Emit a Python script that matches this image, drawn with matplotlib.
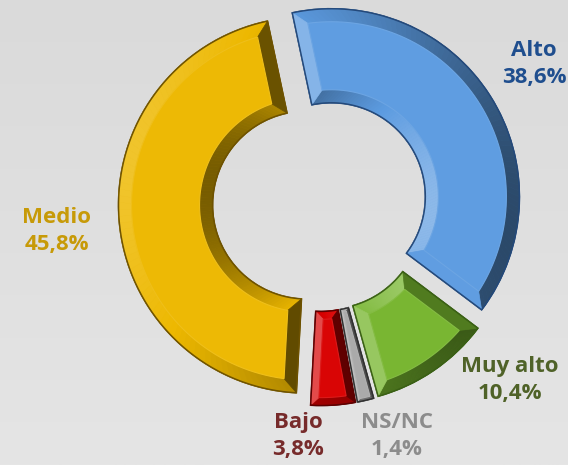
import numpy as np
import matplotlib
matplotlib.use("Agg")
import matplotlib.pyplot as plt
from matplotlib.collections import PolyCollection
from matplotlib.patches import Polygon
from matplotlib.colors import to_rgb

# ---- data ----
categories = ["Alto", "Muy alto", "NS/NC", "Bajo", "Medio"]
values = [38.6, 10.4, 1.4, 3.8, 45.8]
value_labels = ["38,6%", "10,4%", "1,4%", "3,8%", "45,8%"]

# ---- style ----
slice_colors = ["#5C9BE0", "#76B52E", "#A8A8A8", "#D80000", "#EDB800"]
edge_colors = ["#24497A", "#3A6015", "#303030", "#5A0000", "#6E5200"]
text_colors = ["#1F4E8E", "#4F6228", "#8C8C8C", "#772B2B", "#C79A08"]
label_pos = [(534, 64), (510, 380), (397, 436), (298, 436), (57, 231)]  # pixel (x, y from top)
explode_px = 13.5

W, H = 568, 465
fig = plt.figure(figsize=(W / 100, H / 100), dpi=100)
ax = fig.add_axes([0, 0, 1, 1])

# background gradient
grad = np.linspace(0, 1, 256).reshape(-1, 1)
c_top = np.array(to_rgb("#DADADA"))
c_bot = np.array(to_rgb("#E5E5E5"))
bg = c_bot[None, None, :] * (1 - grad[..., None]) + c_top[None, None, :] * grad[..., None]
ax.imshow(bg, extent=[0, W, 0, H], origin="lower", aspect="auto", zorder=0)

R = 188
wedges, _ = ax.pie(values, radius=R, center=(320, H - 204), startangle=102,
                   counterclock=False, explode=[explode_px] * len(values),
                   colors=slice_colors,
                   wedgeprops=dict(width=R * 0.5, linewidth=1.2),
                   frame=True)
ax.set_xlim(0, W)
ax.set_ylim(0, H)
ax.set_aspect("equal")
ax.axis("off")

L = np.array([-0.97, 0.25])
L = L / np.linalg.norm(L)


def shade(base, f):
    base = np.array(base)
    if f >= 1:
        return tuple(base + (1 - base) * min(f - 1, 1))
    return tuple(base * max(f, 0))


def sector_pts(cx, cy, ri, ro, t1, t2, d, n=60):
    rr_o = ro - d
    rr_i = ri + d

    def tb(r):
        a = np.degrees(np.arcsin(min(d / r, 0.99)))
        return t1 + a, t2 - a
    a1, a2 = tb(rr_o)
    b1, b2 = tb(rr_i)
    to = np.radians(np.linspace(a1, a2, n))
    ti = np.radians(np.linspace(b2, b1, n))
    return np.concatenate([
        np.c_[cx + rr_o * np.cos(to), cy + rr_o * np.sin(to)],
        np.c_[cx + rr_i * np.cos(ti), cy + rr_i * np.sin(ti)]])


for w, col, ecol in zip(wedges, slice_colors, edge_colors):
    w.set_edgecolor(ecol)
    w.set_zorder(2)
    cx, cy = w.center
    ro = w.r
    ri = w.r - w.width
    t1, t2 = w.theta1, w.theta2
    base = to_rgb(col)
    span_in = np.radians(t2 - t1) * ri
    d = min(13, span_in * 0.35, (ro - ri) * 0.3)
    n = 80
    outer = sector_pts(cx, cy, ri, ro, t1, t2, 0.0, n)
    inner = sector_pts(cx, cy, ri, ro, t1, t2, d, n)
    polys, cols = [], []
    for k in range(n - 1):
        quad = [outer[k], outer[k + 1], inner[k + 1], inner[k]]
        mid = (outer[k] + outer[k + 1]) / 2 - [cx, cy]
        nrm = mid / np.linalg.norm(mid)
        polys.append(quad)
        cols.append(shade(base, 0.82 + 0.35 * nrm.dot(L)))
    for k in range(n, 2 * n - 1):
        quad = [outer[k], outer[k + 1], inner[k + 1], inner[k]]
        mid = (outer[k] + outer[k + 1]) / 2 - [cx, cy]
        nrm = -mid / np.linalg.norm(mid)
        polys.append(quad)
        cols.append(shade(base, 0.9 + 0.4 * nrm.dot(L)))
    for (i0, i1, ang) in [(n - 1, n, t2), (2 * n - 1, 0, t1)]:
        quad = [outer[i0], outer[i1], inner[i1], inner[i0]]
        a = np.radians(ang)
        if ang == t2:
            nrm = np.array([-np.sin(a), np.cos(a)])
        else:
            nrm = np.array([np.sin(a), -np.cos(a)])
        polys.append(quad)
        cols.append(shade(base, 0.85 + 0.45 * nrm.dot(L)))
    pc = PolyCollection(polys, facecolors=cols, edgecolors=cols, linewidths=0.5, zorder=3)
    ax.add_collection(pc)
    ax.add_patch(Polygon(inner, closed=True, facecolor=shade(base, 1.02),
                         edgecolor=shade(base, 1.1), linewidth=0.8, zorder=4))
    ax.add_patch(Polygon(outer, closed=True, facecolor="none",
                         edgecolor=ecol, linewidth=1.0, zorder=5))

for cat, lab, tc, (x, y) in zip(categories, value_labels, text_colors, label_pos):
    ax.text(x, H - y, cat + "\n" + lab, ha="center", va="center", color=tc,
            fontsize=16, fontweight="bold", family=["Open Sans", "DejaVu Sans"],
            linespacing=1.4, zorder=6)

fig.savefig("out.png", dpi=100)
